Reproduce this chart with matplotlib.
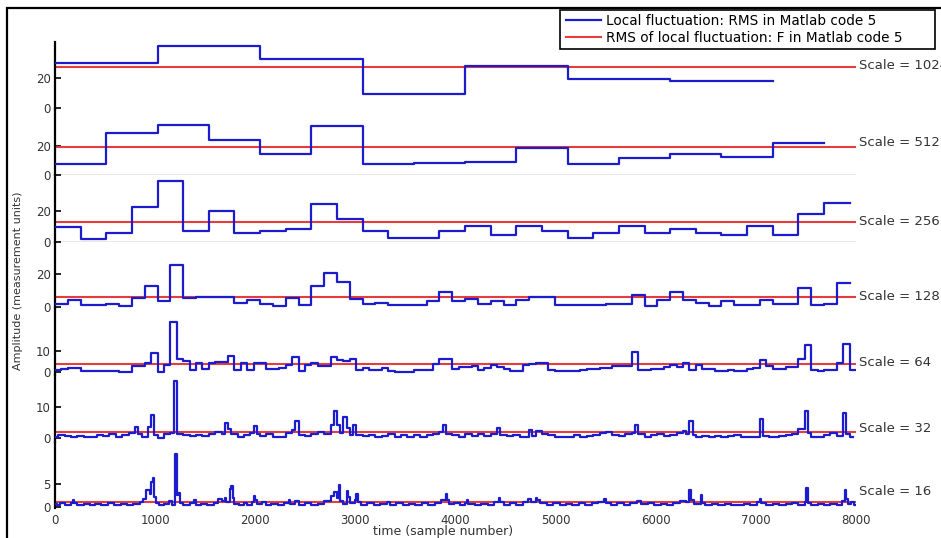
import numpy as np
import matplotlib
matplotlib.use("Agg")
import matplotlib.pyplot as plt
from matplotlib.lines import Line2D
from matplotlib.patches import Rectangle

plt.rcParams["font.family"] = ["DejaVu Sans"]

# Scales (window sizes, in samples) from top to bottom
SCALES = [1024, 512, 256, 128, 64, 32, 16]

# Overall RMS of the local fluctuation (F) per scale
F_RMS = [27.5, 19.7, 13.2, 6.2, 3.75, 1.85, 1.2]

# Local fluctuation RMS per window (one value per non-overlapping window)
RMS_1024 = [29.8, 41.5, 32.5, 9.2, 28.2, 19.5, 17.8]
RMS_512 = [8.0, 29.4, 35.0, 24.6, 14.5, 34.0, 7.4, 8.3, 9.2, 19.0, 8.0, 12.2, 14.5, 12.6, 22.5]
RMS_256 = [9.4, 1.8, 5.5, 23.0, 39.5, 7.0, 20.2, 5.5, 7.0, 8.3, 24.8, 14.7, 7.0, 2.8, 2.8, 7.0,
           10.5, 4.4, 10.0, 7.0, 2.8, 5.7, 10.0, 5.7, 8.3, 5.7, 4.4, 10.0, 4.4, 18.2, 25.4]
RMS_128 = [1.5, 4.1, 1.3, 1.3, 1.5, 0.5, 5.6, 12.6, 3.7, 25.5, 5.6, 6.3, 6.3, 6.3, 2.1, 4.3,
           1.8, 0.5, 5.6, 0.8, 12.6, 21.0, 15.4, 4.5, 1.5, 2.3, 0.8, 1.1, 0.8, 3.6, 8.9, 3.6,
           5.0, 1.5, 3.7, 0.8, 4.3, 6.3, 6.3, 1.2, 1.2, 0.8, 0.8, 1.5, 1.5, 7.3, 0.5, 4.1,
           8.9, 4.1, 2.5, 0.5, 3.5, 0.8, 0.8, 4.1, 1.7, 1.7, 11.8, 0.8, 1.7, 14.8]
RMS_64 = [1.1, 1.7, 2.0, 2.0, 0.6, 0.6, 0.8, 0.8, 0.8, 0.8, 0.3, 0.3, 3.0, 3.0, 4.2, 8.9,
          0.3, 3.4, 23.7, 6.1, 5.3, 1.1, 4.2, 1.4, 4.2, 5.0, 5.0, 7.8, 1.1, 4.2, 1.1, 4.5,
          4.2, 1.4, 1.4, 1.9, 3.4, 7.0, 0.8, 3.4, 4.2, 3.0, 3.0, 7.3, 5.8, 5.5, 6.1, 1.1,
          1.9, 1.1, 1.1, 1.9, 0.6, 0.3, 0.3, 0.3, 1.1, 1.1, 1.1, 3.9, 6.1, 6.1, 1.4, 2.3,
          2.3, 2.7, 1.1, 1.9, 3.4, 2.3, 1.4, 0.6, 0.6, 3.4, 3.9, 4.5, 4.5, 1.1, 0.6, 0.6,
          0.8, 0.8, 1.1, 1.4, 1.4, 1.9, 1.9, 3.0, 3.0, 3.0, 9.4, 1.1, 1.1, 1.4, 1.4, 2.3,
          3.4, 2.3, 4.2, 1.1, 3.4, 1.4, 1.4, 0.8, 0.8, 1.1, 0.6, 0.6, 1.4, 1.9, 5.8, 3.0,
          1.4, 1.4, 2.3, 2.3, 6.1, 12.8, 1.1, 0.6, 1.1, 1.1, 4.2, 13.3, 1.1]

# Finer scales: sample where the value changes, and the new value
T_32 = [0, 32, 96, 160, 224, 288, 352, 416, 480, 544, 608, 672, 736, 800, 832, 864, 928, 960,
        992, 1024, 1088, 1152, 1184, 1216, 1280, 1344, 1408, 1472, 1536, 1600, 1664, 1696,
        1728, 1760, 1824, 1888, 1952, 1984, 2016, 2048, 2112, 2176, 2304, 2368, 2400, 2432,
        2496, 2560, 2624, 2688, 2752, 2784, 2816, 2848, 2880, 2912, 2944, 2976, 3008, 3072,
        3136, 3200, 3264, 3328, 3392, 3456, 3520, 3584, 3648, 3712, 3776, 3840, 3872, 3904,
        3968, 4032, 4096, 4160, 4224, 4288, 4352, 4416, 4448, 4512, 4576, 4640, 4736, 4768,
        4800, 4864, 4928, 4992, 5056, 5184, 5248, 5312, 5376, 5440, 5504, 5568, 5632, 5696,
        5760, 5792, 5824, 5888, 5952, 6016, 6080, 6144, 6208, 6272, 6304, 6336, 6368, 6400,
        6464, 6528, 6592, 6656, 6720, 6784, 6848, 6912, 7040, 7072, 7136, 7232, 7296, 7360,
        7424, 7488, 7520, 7552, 7616, 7680, 7744, 7808, 7872, 7904, 7936]
RMS_32 = [0.5, 1.0, 0.8, 0.3, 0.8, 0.5, 0.4, 1.0, 0.7, 1.2, 0.5, 0.9, 1.6, 3.7, 1.4, 0.3, 3.5, 7.5,
          1.0, 0.2, 1.3, 1.6, 18.6, 1.3, 1.0, 0.7, 1.1, 0.8, 1.5, 2.0, 1.4, 4.8,
          3.0, 1.2, 0.4, 0.9, 1.8, 4.0, 1.5, 0.8, 1.4, 0.5, 1.8, 2.8, 5.5, 1.0,
          0.6, 1.2, 1.9, 1.3, 4.2, 8.9, 4.2, 1.8, 6.7, 3.2, 1.0, 4.2, 1.0, 0.6,
          1.0, 0.4, 0.8, 1.2, 0.5, 0.9, 0.4, 1.0, 0.5, 0.9, 1.3, 2.0, 4.2, 1.5,
          1.0, 0.5, 1.3, 0.6, 1.5, 0.8, 1.4, 3.2, 1.0, 0.6, 1.1, 0.4, 2.6, 0.8,
          2.3, 1.4, 0.9, 0.5, 0.4, 0.9, 0.3, 0.6, 1.0, 1.6, 2.0, 1.0, 0.6, 1.4,
          1.6, 4.2, 1.2, 0.5, 0.9, 1.2, 0.6, 1.0, 1.8, 2.2, 1.4, 5.5, 1.0, 0.4,
          0.8, 0.4, 0.6, 0.3, 0.8, 1.0, 0.5, 0.4, 6.1, 0.8, 0.5, 0.6, 0.9, 1.4,
          2.9, 8.9, 1.8, 0.5, 0.4, 1.0, 1.6, 0.6, 8.0, 1.2, 0.4]
T_16 = [0, 16, 48, 96, 160, 176, 192, 224, 288, 352, 400, 464, 528, 592, 656, 720, 784, 848,
        880, 912, 944, 960, 976, 992, 1008, 1040, 1088, 1136, 1168, 1200, 1216, 1232, 1248,
        1280, 1344, 1392, 1408, 1456, 1520, 1584, 1632, 1664, 1696, 1712, 1744, 1760, 1776,
        1792, 1840, 1888, 1920, 1968, 1984, 2000, 2016, 2064, 2112, 2160, 2224, 2288, 2336,
        2352, 2400, 2432, 2496, 2560, 2624, 2688, 2752, 2784, 2816, 2832, 2848, 2880, 2912,
        2928, 2944, 2992, 3008, 3024, 3056, 3120, 3184, 3248, 3312, 3344, 3408, 3472, 3536,
        3600, 3664, 3728, 3792, 3856, 3904, 3920, 3936, 3984, 4048, 4096, 4112, 4128, 4192,
        4256, 4320, 4384, 4432, 4448, 4480, 4544, 4608, 4672, 4720, 4752, 4800, 4816, 4848,
        4912, 4976, 5040, 5104, 5168, 5232, 5296, 5360, 5424, 5488, 5504, 5552, 5616, 5680,
        5744, 5808, 5856, 5920, 5984, 6048, 6112, 6176, 6240, 6304, 6336, 6352, 6384, 6448,
        6464, 6496, 6560, 6624, 6688, 6752, 6816, 6880, 6944, 7008, 7040, 7056, 7104, 7168,
        7232, 7296, 7360, 7424, 7488, 7504, 7520, 7552, 7616, 7680, 7744, 7808, 7856, 7888,
        7904, 7920, 7952, 7984]
RMS_16 = [0.7, 0.5, 0.9, 0.6, 1.0, 1.6, 1.0, 0.6, 0.8, 0.5, 0.8, 0.6, 0.9, 0.6, 0.8, 0.5, 0.8, 1.2,
          1.8, 3.8, 2.8, 5.5, 6.4, 2.3, 1.0, 0.4, 0.8, 1.4, 0.6, 11.6, 2.7, 3.2, 1.0,
          0.6, 0.9, 1.6, 0.6, 0.8, 0.5, 0.9, 1.8, 1.4, 2.0, 1.2, 3.9, 4.6, 2.0,
          0.8, 0.5, 1.0, 0.6, 1.2, 2.5, 1.6, 0.8, 1.1, 0.5, 0.8, 0.6, 1.0, 1.6,
          0.7, 1.4, 0.6, 0.9, 0.6, 0.8, 1.3, 2.5, 3.4, 2.0, 4.9, 1.4, 0.8, 3.5,
          2.2, 1.0, 1.5, 3.0, 1.2, 0.6, 1.0, 0.5, 0.8, 1.1, 0.6, 0.9, 0.5, 0.8,
          0.6, 0.9, 0.6, 1.0, 1.5, 3.0, 1.6, 0.7, 1.0, 0.6, 1.0, 1.6, 0.8, 0.5,
          0.8, 0.6, 1.1, 2.0, 1.2, 0.6, 0.9, 0.6, 1.2, 1.8, 1.2, 2.1, 1.6, 0.9,
          0.6, 0.9, 0.6, 0.8, 0.5, 0.9, 0.6, 0.9, 1.2, 1.8, 1.0, 0.6, 0.9, 0.6,
          0.9, 1.3, 0.7, 0.9, 0.5, 0.8, 0.6, 1.0, 1.4, 1.2, 3.8, 1.6, 0.7, 2.7,
          1.0, 0.5, 0.7, 0.5, 0.8, 0.6, 0.5, 0.8, 0.6, 1.1, 1.8, 0.9, 0.6, 0.8,
          0.5, 0.7, 0.9, 0.6, 1.1, 4.3, 1.0, 0.6, 0.8, 0.5, 0.8, 0.6, 1.4, 3.8,
          1.8, 0.8, 1.2, 0.6]

YTICKS = [[0, 20], [0, 20], [0, 20], [0, 20], [0, 10], [0, 10], [0, 5]]

# layout / style
W, H = 941, 538
AX_LEFT, AX_RIGHT = 55, 856
AX_TOP, PANEL_H = 42, 66.6
YLIMS = [(-0.4, 44), (0, 46), (0, 43.4), (-1, 40), (-1.3, 30), (-1.1, 20.4), (-0.2, 14.3)]
LABEL_Y = [28.2, 22.3, 13.2, 6.2, 4.7, 3.2, 3.4]
BLUE = "#1c1ccc"
RED = "#e63c3c"
TXT = "#333333"


def step_edges(values, scale=None, starts=None, end=None):
    # window edges for a step curve (post style)
    if starts is None:
        edges = np.arange(len(values) + 1) * scale
    else:
        edges = np.append(starts, end)
    return edges, np.append(values, values[-1])


series = [
    step_edges(RMS_1024, 1024),
    step_edges(RMS_512, 512),
    step_edges(RMS_256, 256),
    step_edges(RMS_128, 128),
    step_edges(RMS_64, 64),
    step_edges(RMS_32, starts=T_32, end=7968),
    step_edges(RMS_16, starts=T_16, end=8000),
]

fig = plt.figure(figsize=(W / 100, H / 100), dpi=100)

for i, (scale, (x, y)) in enumerate(zip(SCALES, series)):
    bottom_px = AX_TOP + (i + 1) * PANEL_H
    ax = fig.add_axes([AX_LEFT / W, 1 - bottom_px / H,
                       (AX_RIGHT - AX_LEFT) / W, PANEL_H / H])
    ax.patch.set_alpha(0)

    # faint zero line under the middle panels
    if i in (1, 2):
        ax.axhline(0, color="#e4e4e4", linewidth=1.2, zorder=0)
    ax.axhline(F_RMS[i], color=RED, linewidth=1.5, zorder=2)
    ax.step(x, y, where="post", color=BLUE, linewidth=1.6, zorder=3)

    ax.set_xlim(0, 8000)
    ax.set_ylim(*YLIMS[i])
    ax.set_yticks(YTICKS[i])

    for side in ["top", "right", "bottom"]:
        ax.spines[side].set_visible(False)
    ax.spines["left"].set_linewidth(1.6)
    ax.spines["left"].set_color("black")
    ax.tick_params(axis="y", direction="in", length=4, width=1.2,
                   labelsize=8.5, pad=3, labelcolor=TXT)

    if i < len(SCALES) - 1:
        ax.set_xticks([])
    else:
        ax.set_xticks(range(0, 8001, 1000))
        ax.tick_params(axis="x", length=0, labelsize=8.5, pad=4, labelcolor=TXT)

    ax.text(8030, LABEL_Y[i], f"Scale = {scale}", fontsize=9.5, color=TXT,
            va="center", ha="left", clip_on=False)

fig.text(443 / W, 1 - 532 / H, "time (sample number)", fontsize=9,
         ha="center", va="center", color=TXT)
fig.text(18 / W, 1 - 281 / H, "Amplitude (measurement units)", fontsize=8,
         rotation=90, ha="center", va="center", color=TXT)

legenda = [
    Line2D([], [], color=BLUE, linewidth=1.6, label="Local fluctuation: RMS in Matlab code 5"),
    Line2D([], [], color=RED, linewidth=1.5, label="RMS of local fluctuation: F in Matlab code 5"),
]
fig.legend(handles=legenda, loc="upper left", bbox_to_anchor=(564 / W, 1 - 12 / H),
           fontsize=9.8, frameon=False, handlelength=2.6, handletextpad=0.3,
           borderpad=0.15, labelspacing=0.2, borderaxespad=0)
# legend box
fig.add_artist(Rectangle((560 / W, 1 - 49 / H), 375 / W, 39 / H, transform=fig.transFigure,
                         fill=False, edgecolor="black", linewidth=1.2))

# outer black frame
fig.add_artist(Rectangle((7 / W, -0.05), 1.1, 1.05 - 8 / H, transform=fig.transFigure,
                         fill=False, edgecolor="black", linewidth=1.6, clip_on=False))

fig.savefig("out.png", dpi=100)
